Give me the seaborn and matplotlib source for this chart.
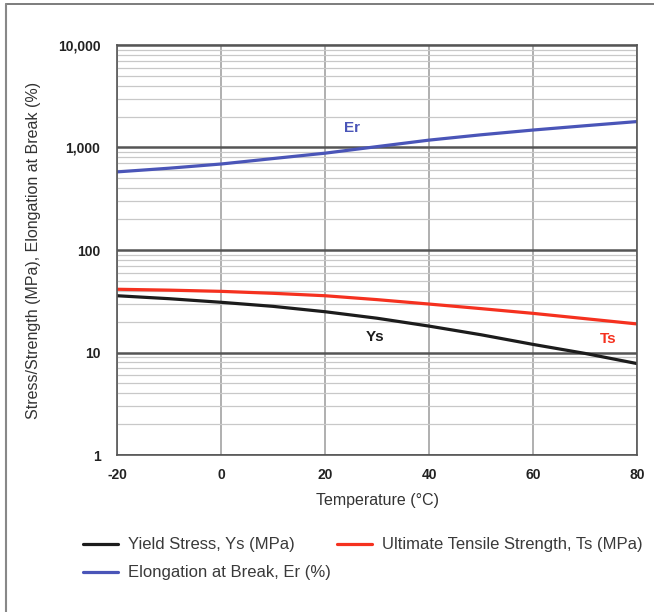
import numpy as np
import pandas as pd
import matplotlib
matplotlib.use("Agg")
import matplotlib.pyplot as plt
import seaborn as sns
from matplotlib.ticker import FixedLocator, LogLocator, NullFormatter
from matplotlib.lines import Line2D

# values
temp = [-20, -10, 0, 10, 20, 30, 40, 50, 60, 70, 80]
yield_stress = [35.8, 33.5, 30.9, 28.2, 25.0, 21.6, 18.1, 14.9, 12.0, 9.8, 7.8]
tensile_strength = [41.4, 40.6, 39.5, 37.8, 35.8, 32.8, 29.7, 26.8, 24.1, 21.4, 19.0]
elongation = [578, 628, 690, 780, 880, 1020, 1180, 1330, 1480, 1630, 1790]

series_names = [
    "Yield Stress, Ys (MPa)",
    "Ultimate Tensile Strength, Ts (MPa)",
    "Elongation at Break, Er (%)",
]
colors = ["#1c1c1c", "#f5311f", "#4a55b8"]

df = pd.concat([
    pd.DataFrame({"Temperature": temp, "value": yield_stress, "series": series_names[0]}),
    pd.DataFrame({"Temperature": temp, "value": tensile_strength, "series": series_names[1]}),
    pd.DataFrame({"Temperature": temp, "value": elongation, "series": series_names[2]}),
])

sns.set_style("white")
plt.rcParams["font.family"] = ["Liberation Sans", "DejaVu Sans"]
plt.rcParams["axes.unicode_minus"] = False

fig = plt.figure(figsize=(6.54, 6.12), dpi=100)
ax = fig.add_axes([0.179, 0.2565, 0.795, 0.67])

ax.set_yscale("log")
ax.set_ylim(1, 10000)
ax.set_xlim(-20, 80)

# grid
ax.yaxis.set_minor_locator(LogLocator(base=10, subs=np.arange(2, 10)))
ax.yaxis.set_minor_formatter(NullFormatter())
ax.grid(which="minor", axis="y", color="#c8c8c8", linewidth=0.9)
ax.grid(which="major", axis="y", color="#555555", linewidth=1.8)
ax.grid(which="major", axis="x", color="#9a9a9a", linewidth=1.1)
ax.set_axisbelow(True)

sns.lineplot(data=df, x="Temperature", y="value", hue="series",
             palette=dict(zip(series_names, colors)), linewidth=2.3,
             legend=False, ax=ax)

ax.xaxis.set_major_locator(FixedLocator([-20, 0, 20, 40, 60, 80]))
ax.yaxis.set_major_locator(FixedLocator([1, 10, 100, 1000, 10000]))
ax.set_yticklabels(["1", "10", "100", "1,000", "10,000"])
ax.tick_params(axis="both", which="both", length=0, labelsize=10, colors="#222222")
ax.tick_params(axis="x", pad=9)
ax.tick_params(axis="y", pad=12)
for lab in ax.get_xticklabels() + ax.get_yticklabels():
    lab.set_fontweight("bold")

for s in ax.spines.values():
    s.set_color("#555555")
    s.set_linewidth(1.2)

ax.set_xlabel("Temperature (\u00b0C)", fontsize=11.5, color="#333333", labelpad=8)
ax.set_ylabel("Stress/Strength (MPa), Elongation at Break (%)", fontsize=11.5,
              color="#333333", labelpad=12)

# in-plot series labels
ax.text(25.2, 1550, "Er", color=colors[2], fontsize=11, fontweight="bold", ha="center", va="center")
ax.text(29.6, 14.2, "Ys", color=colors[0], fontsize=11, fontweight="bold", ha="center", va="center")
ax.text(74.4, 13.5, "Ts", color=colors[1], fontsize=11, fontweight="bold", ha="center", va="center")

# legend
handles = [Line2D([0], [0], color=c, linewidth=2.3) for c in colors]
order = [0, 2, 1]
fig.legend([handles[i] for i in order], [series_names[i] for i in order],
           loc="upper left", bbox_to_anchor=(0.127, 0.122), ncol=2, frameon=False,
           fontsize=12, handlelength=2.1, handletextpad=0.6, columnspacing=0.36,
           labelspacing=0.78, borderaxespad=0, borderpad=0, labelcolor="#3a3a3a")

# outer frame: top and left edges
fig.add_artist(Line2D([0.009, 1.0], [0.993, 0.993], transform=fig.transFigure,
                      color="#666666", linewidth=1.2))
fig.add_artist(Line2D([0.009, 0.009], [0.0, 0.993], transform=fig.transFigure,
                      color="#888888", linewidth=1.5))

fig.savefig("out.png", dpi=100)
